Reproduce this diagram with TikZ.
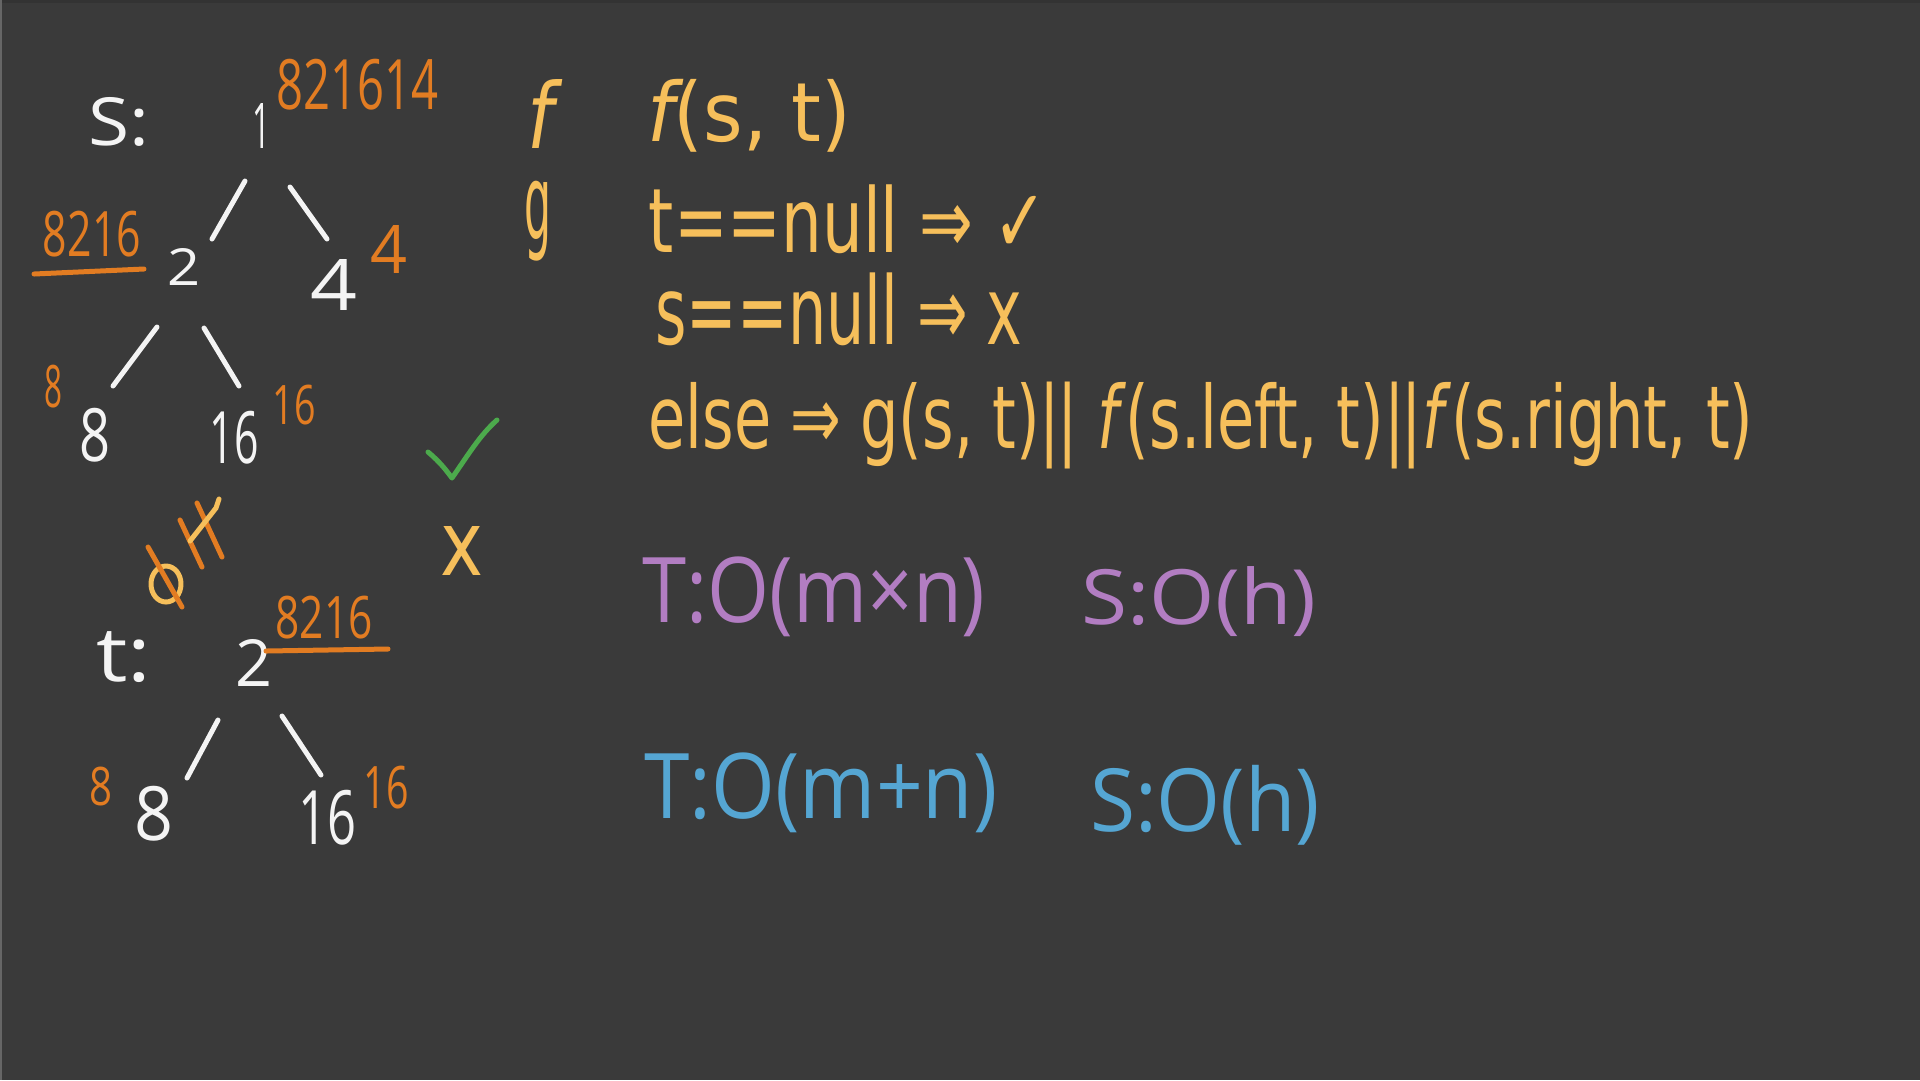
\documentclass[tikz,border=0pt]{standalone}
\usepackage{fontspec}
\usepackage{graphicx}
\setmainfont{Open Sans}
\newfontfamily\symfont{DejaVu Sans}
\usetikzlibrary{calc}
\newlength\pxu \setlength\pxu{0.1mm}
\newcommand\hw[3]{\resizebox*{#1\pxu}{#2\pxu}{#3}}
\newcommand\dbar{|\kern-0.05em|}
\definecolor{bgc}{HTML}{3A3A3A}
\definecolor{chalk}{HTML}{F4F4F4}
\definecolor{orng}{HTML}{E27C22}
\definecolor{yell}{HTML}{F6BF5B}
\definecolor{purp}{HTML}{B27DC2}
\definecolor{blu}{HTML}{55A6D3}
\definecolor{grn}{HTML}{4CAA4C}
\tikzset{
  txt/.style={inner sep=0pt, outer sep=0pt, anchor=center, font=\fontsize{20}{24}\selectfont},
  wtxt/.style={txt, text=chalk},
  otxt/.style={txt, text=orng},
  ytxt/.style={txt, text=yell, font=\fontsize{20}{24}\symfont},
  ptxt/.style={txt, text=purp},
  btxt/.style={txt, text=blu},
  edge/.style={draw=chalk, line width=0.5mm, line cap=round},
  stroke/.style={line width=0.5mm, line cap=round, line join=round}
}
\begin{document}
\begin{tikzpicture}[x=0.1mm, y=-0.1mm]
\fill[bgc] (0,0) rectangle (1920,1080);
\fill[black!80] (0,0) rectangle (1920,3);
\fill[black!60] (0,0) rectangle (2,1080);
\useasboundingbox (0,0) rectangle (1920,1080);

% tree s
\node[wtxt] (slab) at (119,122) {\hw{61}{49}{S:}};
\node[wtxt] (s1) at (261,126) {\hw{18}{45}{1}};
\node[wtxt] (s2) at (184,267) {\hw{33}{37}{2}};
\node[wtxt] (s4) at (334,285) {\hw{47}{51}{4}};
\node[wtxt] (s8) at (95,435) {\hw{31}{54}{8}};
\node[wtxt] (s16) at (234,438) {\hw{49}{53}{16}};
\draw[edge] ($(s1)+(-16,55)$) -- ($(s2)+(28,-28)$);
\draw[edge] ($(s1)+(29,61)$) -- ($(s4)+(-7,-46)$);
\draw[edge] ($(s2)+(-27,60)$) -- ($(s8)+(18,-49)$);
\draw[edge] ($(s2)+(20,61)$) -- ($(s16)+(5,-52)$);

\node[otxt] (o1) at (357,85) {\hw{162}{51}{821614}};
\node[otxt] (o2) at (92,234) {\hw{98}{46}{8216}};
\draw[stroke, orng] (34,274) -- (144,269);
\node[otxt] (o4) at (389,249) {\hw{37}{48}{4}};
\node[otxt] (o8) at (54,387) {\hw{18}{43}{8}};
\node[otxt] (o16) at (294,405) {\hw{43}{40}{16}};

% tree t
\node[wtxt] (tlab) at (124,657) {\hw{55}{51}{t:}};
\node[wtxt] (t2) at (254,663) {\hw{37}{47}{2}};
\node[wtxt] (t8) at (154,814) {\hw{39}{55}{8}};
\node[wtxt] (t16) at (327,818) {\hw{58}{55}{16}};
\draw[edge] ($(t2)+(-36,57)$) -- ($(t8)+(33,-36)$);
\draw[edge] ($(t2)+(28,53)$) -- ($(t16)+(-6,-43)$);

\node[otxt] (ot2) at (324,618) {\hw{97}{43}{8216}};
\draw[stroke, orng] (266,651) -- (388,649);
\node[otxt] (ot8) at (101,786) {\hw{23}{39}{8}};
\node[otxt] (ot16) at (386,788) {\hw{45}{43}{16}};

% scribble
\draw[stroke, yell] (166,584) ellipse [x radius=15, y radius=18];
\draw[stroke, orng] (148,547) -- (182,607);
\draw[stroke, orng] (180,520) -- (202,567);
\draw[stroke, orng] (197,503) -- (222,557);
\draw[stroke, yell] (190,541) -- (216,508) -- (219,499);

% marks
\draw[stroke, grn] (428,452) .. controls (440,462) and (446,470) .. (452,478) .. controls (468,455) and (480,435) .. (497,420);
\node[ytxt] (xmark) at (462,551) {\hw{43}{49}{x}};

% right side text
\node[ytxt] (lf) at (540,114) {\hw{26}{69}{\itshape f}};
\node[ytxt] (fst) at (749,116) {\hw{204}{73}{\itshape f\upshape(s, t)}};
\node[ytxt] (lg) at (538,221) {\hw{27}{80}{g}};
\node[ytxt] (tnull) at (848,219) {\hw{398}{69}{t==null ⇒ ✓}};
\node[ytxt] (snull) at (839,309) {\hw{367}{73}{s==null ⇒ x}};
\node[ytxt] (else) at (1201,425) {\hw{1105}{87}{else ⇒ g(s, t)\dbar{} \textit{f}(s.left, t)\dbar\textit{f}(s.right, t)}};

\node[ptxt] (pT) at (814,597) {\hw{343}{80}{T:O(m×n)}};
\node[ptxt] (pS) at (1199,602) {\hw{235}{70}{S:O(h)}};
\node[btxt] (bT) at (821,793) {\hw{353}{80}{T:O(m+n)}};
\node[btxt] (bS) at (1205,805) {\hw{230}{80}{S:O(h)}};
\end{tikzpicture}
\end{document}
